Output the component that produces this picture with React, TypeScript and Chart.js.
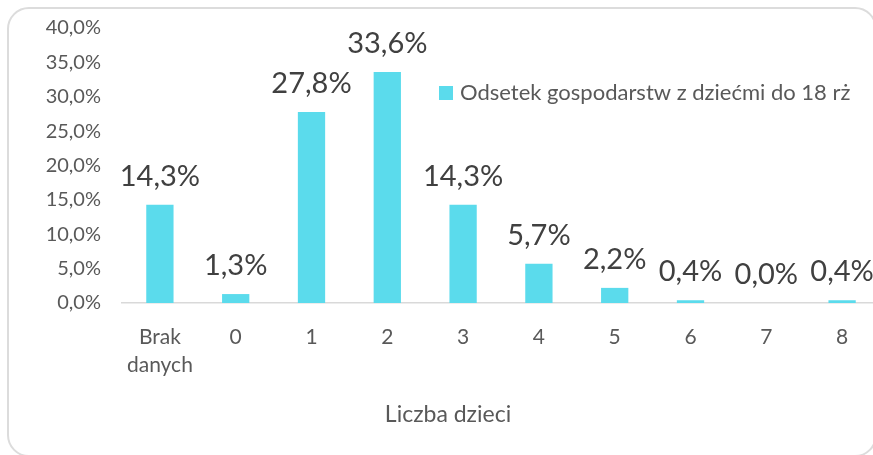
import React, { useEffect, useRef } from 'react';
import { Chart, registerables } from 'chart.js';

Chart.register(...registerables);

const categories: (string | string[])[] = [['Brak', 'danych'], '0', '1', '2', '3', '4', '5', '6', '7', '8'];
const values: number[] = [14.3, 1.3, 27.8, 33.6, 14.3, 5.7, 2.2, 0.4, 0.0, 0.4];
const seriesLabel = 'Odsetek gospodarstw z dziećmi do 18 rż';
const xTitle = 'Liczba dzieci';
const yMin = 0;
const yMax = 40;
const yStep = 5;

const FONT = 'Lato, "Open Sans", sans-serif';
const BAR_COLOR = '#5BDBEC';
const TICK_COLOR = '#595959';
const LABEL_COLOR = '#404040';

const fmt = (v: number, d: number) => v.toFixed(d).replace('.', ',') + '%';

const dataLabelPlugin = {
  id: 'dataLabels',
  afterDatasetsDraw(chart: any) {
    const ctx = chart.ctx;
    const meta = chart.getDatasetMeta(0);
    ctx.save();
    ctx.font = `29px ${FONT}`;
    ctx.fillStyle = LABEL_COLOR;
    ctx.textAlign = 'center';
    ctx.textBaseline = 'bottom';
    meta.data.forEach((el: any, i: number) => {
      const v = chart.data.datasets[0].data[i] as number;
      ctx.fillText(fmt(v, 1), el.x, el.y - 14);
    });
    ctx.restore();
  },
};

const legendPlugin = {
  id: 'customLegend',
  afterDraw(chart: any) {
    const ctx = chart.ctx;
    const ds = chart.data.datasets[0];
    ctx.save();
    ctx.fillStyle = ds.backgroundColor;
    ctx.fillRect(439, 86, 14, 14);
    ctx.font = `22px ${FONT}`;
    ctx.fillStyle = TICK_COLOR;
    ctx.textAlign = 'left';
    ctx.textBaseline = 'middle';
    ctx.fillText(ds.label, 460, 93);
    ctx.restore();
  },
};

const xTitlePlugin = {
  id: 'xTitle',
  afterDraw(chart: any) {
    const ctx = chart.ctx;
    ctx.save();
    ctx.font = `23px ${FONT}`;
    ctx.fillStyle = TICK_COLOR;
    ctx.textAlign = 'center';
    ctx.textBaseline = 'middle';
    ctx.fillText(xTitle, 448, 415);
    ctx.restore();
  },
};

export default function App() {
  const canvasRef = useRef<HTMLCanvasElement | null>(null);

  useEffect(() => {
    if (!canvasRef.current) return;
    const chart = new Chart(canvasRef.current, {
      type: 'bar',
      data: {
        labels: categories,
        datasets: [
          {
            label: seriesLabel,
            data: values,
            backgroundColor: BAR_COLOR,
            borderWidth: 0,
            barPercentage: 0.6,
            categoryPercentage: 0.6,
          },
        ],
      },
      options: {
        responsive: false,
        animation: false,
        layout: { padding: { top: 28, right: 10, left: 0, bottom: 0 } },
        plugins: {
          legend: { display: false },
          tooltip: { enabled: false },
        },
        scales: {
          x: {
            grid: { display: false, drawTicks: false },
            border: { display: true, color: '#d9d9d9', width: 1.5 },
            ticks: {
              font: { family: FONT, size: 21, lineHeight: 1.35 },
              color: TICK_COLOR,
              padding: 20,
              maxRotation: 0,
              autoSkip: false,
            },
            afterFit(scale: any) {
              scale.height = 152;
              scale.paddingLeft = 0;
              scale.paddingRight = 0;
            },
          },
          y: {
            min: yMin,
            max: yMax,
            grid: { display: false, drawTicks: false },
            border: { display: false },
            ticks: {
              stepSize: yStep,
              font: { family: FONT, size: 20 },
              color: TICK_COLOR,
              padding: 21,
              callback: (v: any) => fmt(Number(v), 1),
            },
            afterFit(scale: any) {
              scale.width = 122;
              scale.paddingTop = 0;
              scale.paddingBottom = 0;
            },
          },
        },
      },
      plugins: [dataLabelPlugin, legendPlugin, xTitlePlugin],
    });
    return () => chart.destroy();
  }, []);

  return (
    <div
      style={{
        position: 'fixed',
        left: 0,
        top: 0,
        width: 873,
        height: 455,
        overflow: 'hidden',
        background: '#ffffff',
      }}
    >
      <div
        style={{
          position: 'absolute',
          left: 7,
          top: 7,
          width: 866,
          height: 446,
          border: '2px solid #dcdcdc',
          borderRadius: 22,
          boxSizing: 'content-box',
        }}
      />
      <canvas
        ref={canvasRef}
        width={890}
        height={455}
        style={{ position: 'absolute', left: 0, top: 0, width: 890, height: 455 }}
      />
    </div>
  );
}
